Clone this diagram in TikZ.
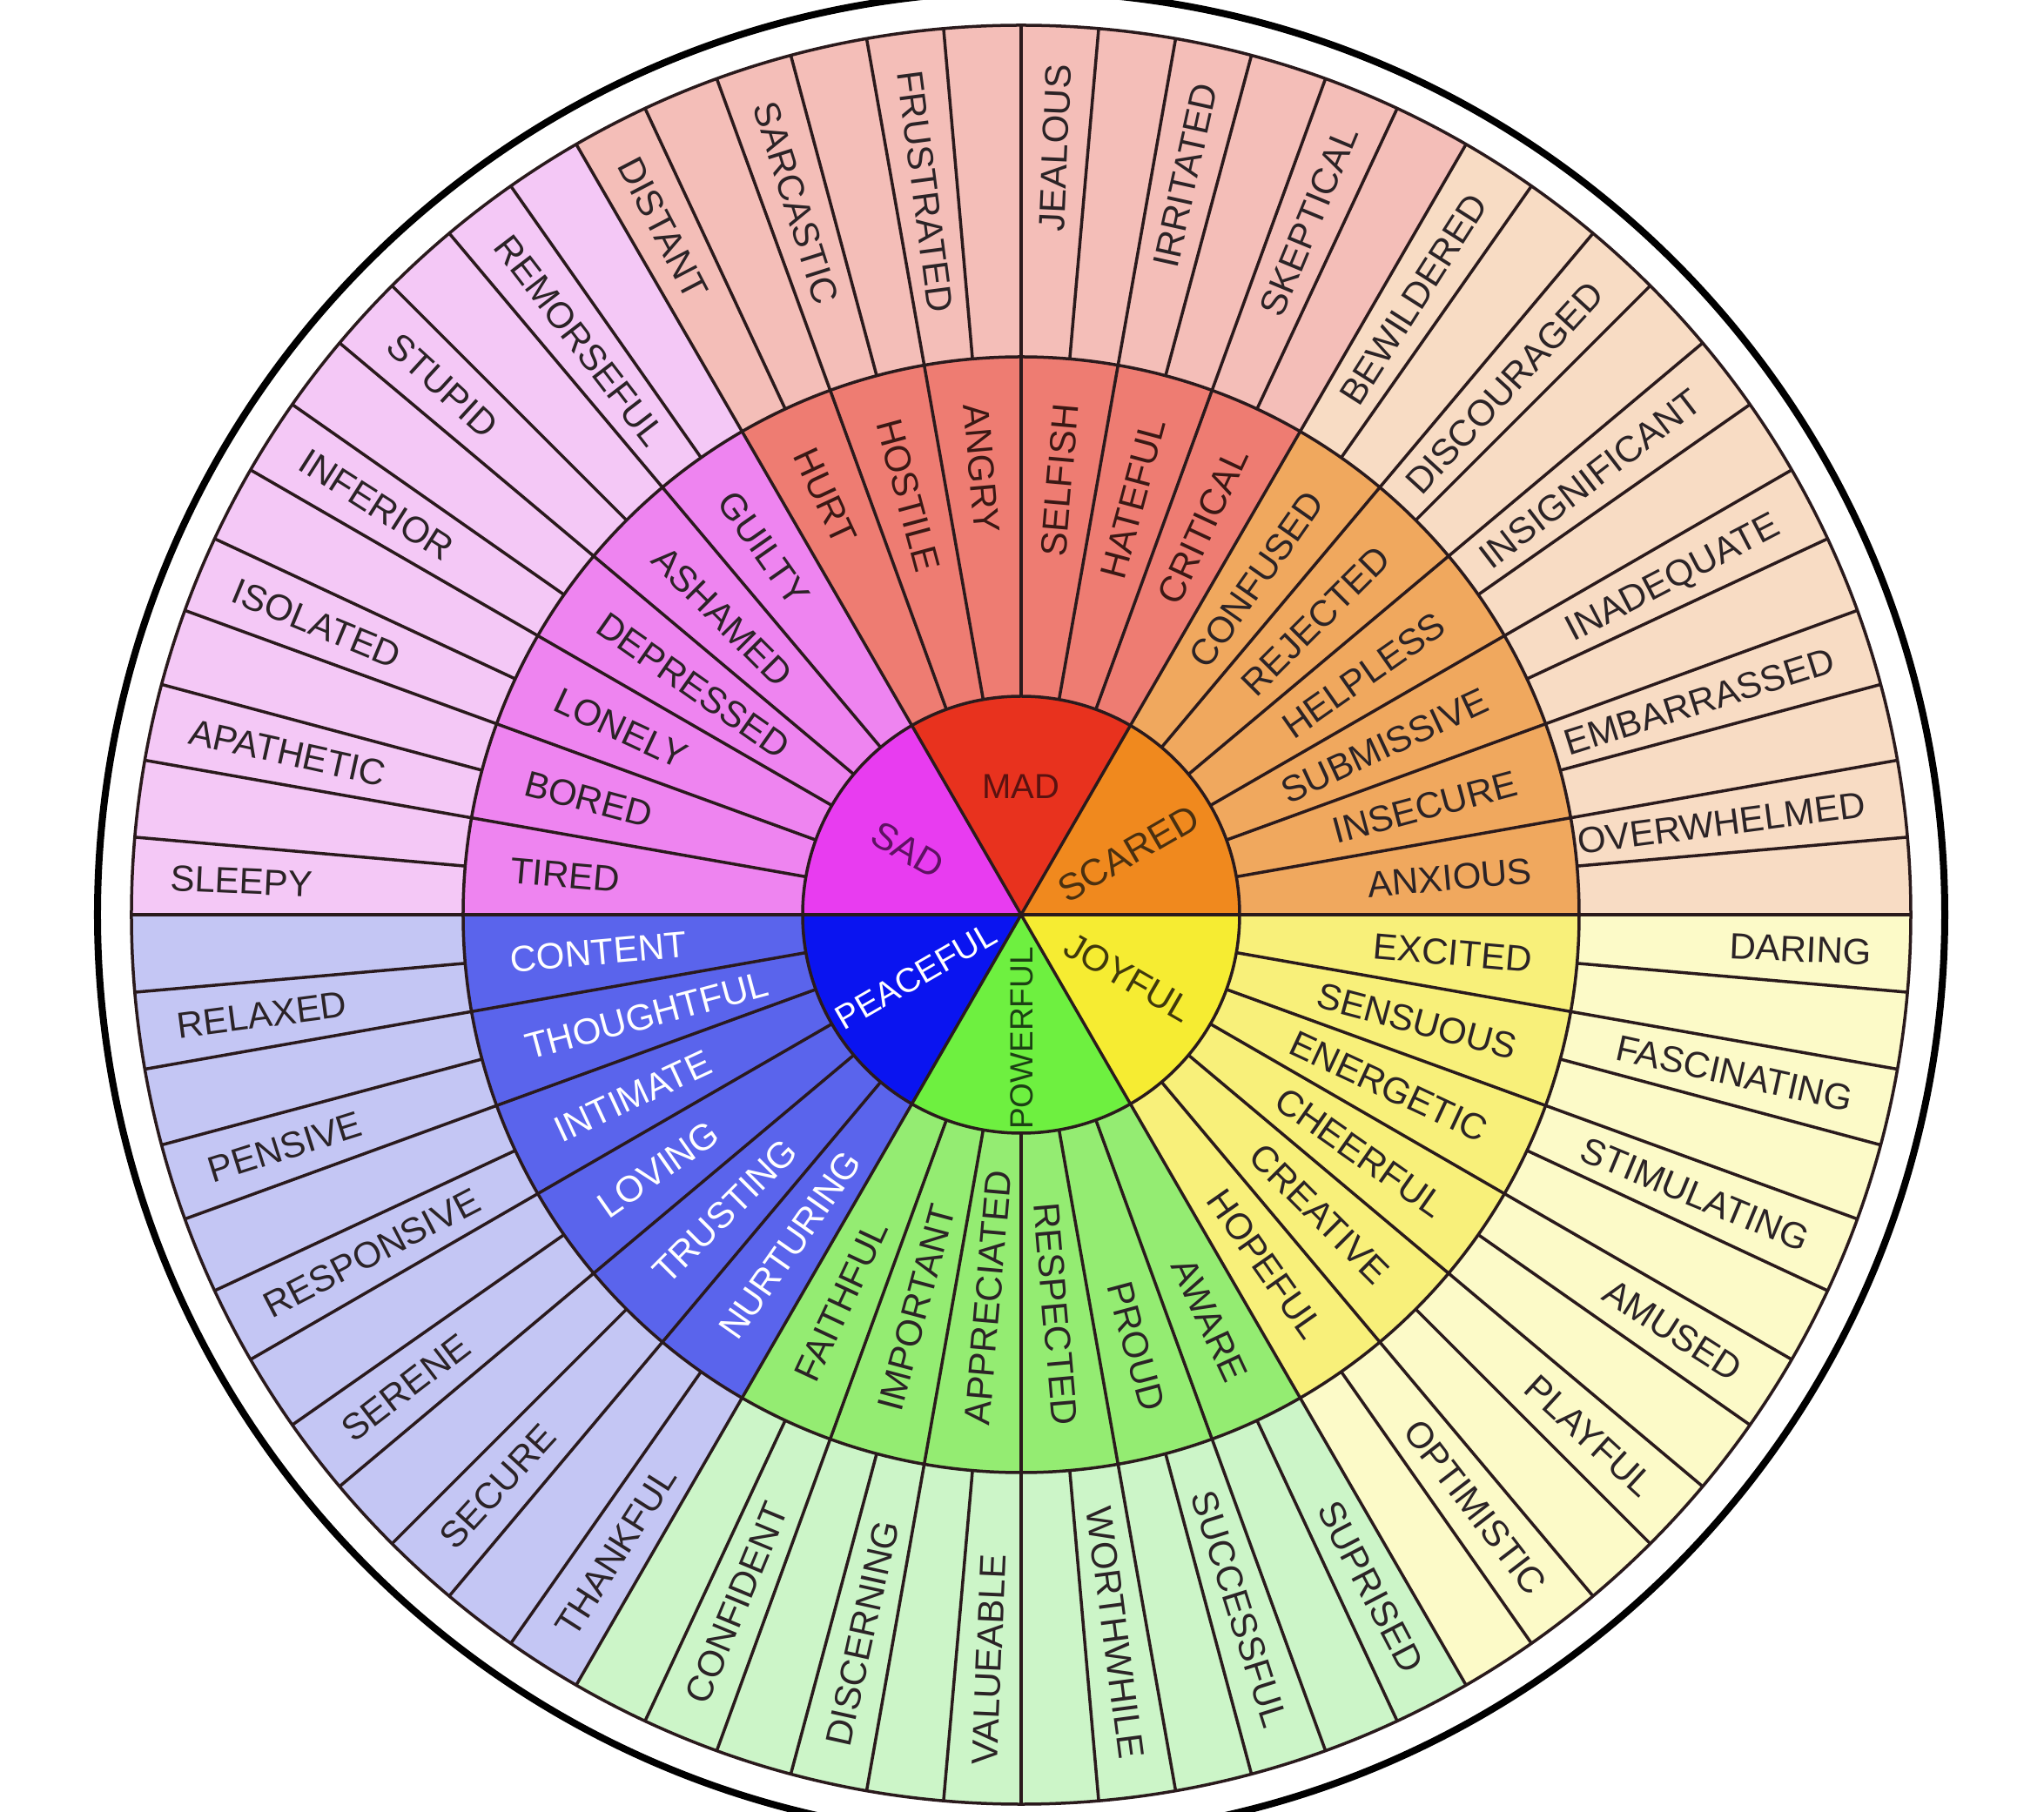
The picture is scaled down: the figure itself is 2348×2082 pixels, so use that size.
\documentclass[tikz,border=0pt]{standalone}
\usepackage{fontspec}
\setmainfont{Liberation Sans}
\definecolor{linec}{HTML}{2A1A1C}
\definecolor{txtc}{HTML}{2B2326}
\definecolor{madC}{HTML}{E8321E}
\definecolor{madM}{HTML}{EE7C72}
\definecolor{madO}{HTML}{F4BEB8}
\definecolor{scC}{HTML}{F0891E}
\definecolor{scM}{HTML}{F0A85E}
\definecolor{scO}{HTML}{F8DCC4}
\definecolor{joyC}{HTML}{F6EC32}
\definecolor{joyM}{HTML}{F8F07A}
\definecolor{joyO}{HTML}{FCFAC8}
\definecolor{powC}{HTML}{6EF040}
\definecolor{powM}{HTML}{94EC72}
\definecolor{powO}{HTML}{CCF5C8}
\definecolor{peaC}{HTML}{0A14F0}
\definecolor{peaM}{HTML}{5A64EC}
\definecolor{peaO}{HTML}{C4C6F4}
\definecolor{sadC}{HTML}{E83CF0}
\definecolor{sadM}{HTML}{EE84F0}
\definecolor{sadO}{HTML}{F4C8F6}
\definecolor{madT}{HTML}{5A1210}
\definecolor{madMT}{HTML}{3A1814}
\definecolor{scT}{HTML}{4A3010}
\definecolor{sadT}{HTML}{5E1262}
\definecolor{powT}{HTML}{1C4014}
\definecolor{joyT}{HTML}{40380C}
\tikzset{
  sepline/.style={draw=linec, line width=3.5pt},
  olab/.style={font=\fontsize{42}{42}\selectfont, inner sep=0pt, text height=30pt, text depth=0pt, text=txtc},
  wlab/.style={olab, text=white},
  rlab/.style={olab, text=madMT},
  clab/.style={inner sep=0pt, text depth=0pt, anchor=center},
}
\newcommand\wlabel[5]{%
  \pgfmathtruncatemacro\wside{(#2>90)&&(#2<270)}%
  \ifnum\wside=1
    \node[#4, rotate=#2+180, anchor=west] (#1) at (#2:#3) {#5};
  \else
    \node[#4, rotate=#2, anchor=east] (#1) at (#2:#3) {#5};
  \fi}
\begin{document}
\begin{tikzpicture}[x=1pt,y=1pt]
\useasboundingbox (-1173,-1031) rectangle (1175,1051);
\fill[white] (-1173,-1031) rectangle (1175,1051);
\clip (-1173,-1031) rectangle (1175,1051);
% sectors
\foreach \g/\co/\cm/\cc in {0/scO/scM/scC, 60/madO/madM/madC, 120/sadO/sadM/sadC, 180/peaO/peaM/peaC, 240/powO/powM/powC, 300/joyO/joyM/joyC} {
  \fill[\co] (0,0) -- (\g:1022) arc[start angle=\g, delta angle=60, radius=1022] -- cycle;
  \fill[\cm] (0,0) -- (\g:641) arc[start angle=\g, delta angle=60, radius=641] -- cycle;
  \fill[\cc] (0,0) -- (\g:251) arc[start angle=\g, delta angle=60, radius=251] -- cycle;
}
% separators
\foreach \a in {0,5,...,355} \draw[sepline] (\a:641) -- (\a:1022);
\foreach \a in {0,10,...,350} \draw[sepline] (\a:251) -- (\a:641);
\foreach \a in {0,60,...,300} \draw[sepline] (0,0) -- (\a:251);
\draw[sepline] (0,0) circle[radius=251];
\draw[sepline] (0,0) circle[radius=641];
\draw[sepline] (0,0) circle[radius=1022];
\draw[line width=8pt, black] (0,0) circle[radius=1061];
% core labels
\node[clab, font=\fontsize{40}{40}\selectfont, text height=28.6pt, text=madT, rotate=0] (cmad) at (90:148) {MAD};
\node[clab, font=\fontsize{43}{43}\selectfont, text height=30.8pt, text=scT, rotate=30] (cscared) at (30:142) {SCARED};
\node[clab, font=\fontsize{43}{43}\selectfont, text height=30.8pt, text=sadT, rotate=-30] (csad) at (150:150) {SAD};
\node[clab, font=\fontsize{39}{39}\selectfont, text height=27.9pt, text=white, rotate=30] (cpeace) at (210:140) {PEACEFUL};
\node[clab, font=\fontsize{37}{37}\selectfont, text height=26.5pt, text=powT, rotate=90] (cpower) at (270:142) {POWERFUL};
\node[clab, font=\fontsize{42}{42}\selectfont, text height=30pt, text=joyT, rotate=-30] (cjoy) at (330:143) {JOYFUL};
% middle ring labels
\foreach \a/\t [count=\i] in {5/ANXIOUS, 15/INSECURE, 25/SUBMISSIVE, 35/HELPLESS, 45/REJECTED, 55/CONFUSED, 125/GUILTY, 135/ASHAMED, 145/DEPRESSED, 155/LONELY, 165/BORED, 175/TIRED, 245/FAITHFUL, 255/IMPORTANT, 265/APPRECIATED, 275/RESPECTED, 285/PROUD, 295/AWARE, 305/HOPEFUL, 315/CREATIVE, 325/CHEERFUL, 335/ENERGETIC, 345/SENSUOUS, 355/EXCITED}
  {\wlabel{m\i}{\a}{589}{olab}{\t}}
\foreach \a/\t [count=\i] in {65/CRITICAL, 75/HATEFUL, 85/SELFISH, 95/ANGRY, 105/HOSTILE, 115/HURT}
  {\wlabel{r\i}{\a}{589}{rlab}{\t}}
\foreach \a/\t [count=\i] in {185/CONTENT, 195/THOUGHTFUL, 205/INTIMATE, 215/LOVING, 225/TRUSTING, 235/NURTURING}
  {\wlabel{p\i}{\a}{589}{wlab}{\t}}
% outer ring labels
\foreach \a/\t [count=\i] in {7.5/OVERWHELMED, 17.5/EMBARRASSED, 27.5/INADEQUATE, 37.5/INSIGNIFICANT, 47.5/DISCOURAGED, 57.5/BEWILDERED, 67.5/SKEPTICAL, 77.5/IRRITATED, 87.5/JEALOUS, 97.5/FRUSTRATED, 107.5/SARCASTIC, 117.5/DISTANT, 127.5/REMORSEFUL, 137.5/STUPID, 147.5/INFERIOR, 157.5/ISOLATED, 167.5/APATHETIC, 177.5/SLEEPY, 187.5/RELAXED, 197.5/PENSIVE, 207.5/RESPONSIVE, 217.5/SERENE, 227.5/SECURE, 237.5/THANKFUL, 247.5/CONFIDENT, 257.5/DISCERNING, 267.5/VALUEABLE, 277.5/WORTHWHILE, 287.5/SUCCESSFUL, 297.5/SUPRISED, 307.5/OPTIMISTIC, 317.5/PLAYFUL, 327.5/AMUSED, 337.5/STIMULATING, 347.5/FASCINATING, 357.5/DARING}
  {\wlabel{o\i}{\a}{978}{olab}{\t}}
\end{tikzpicture}
\end{document}
